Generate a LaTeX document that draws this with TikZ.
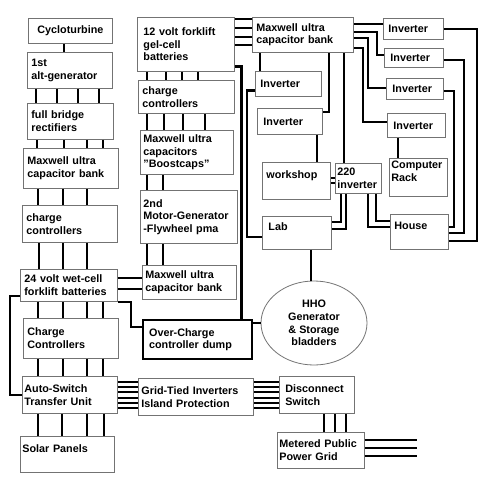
\documentclass[tikz,border=0pt]{standalone}
\usepackage{fontspec}
\setmainfont{Liberation Sans}
\usepackage{tikz}
\usetikzlibrary{shapes.geometric,calc}
\tikzstyle{blk} = [draw=black!55, line width=0.8pt, rectangle, anchor=north west, align=left, inner xsep=4pt, inner ysep=2pt, text=black, font=\bfseries\fontsize{10.8}{12.6}\selectfont]
\tikzstyle{tank} = [ellipse, draw=black!55, line width=0.8pt, align=center, inner sep=0pt, minimum width=106pt, minimum height=84pt, text=black, font=\bfseries\fontsize{10.8}{12.6}\selectfont]
\tikzstyle{wire} = [draw, line width=2.6pt, black]

\begin{document}
\begin{tikzpicture}[x=1pt, y=-1pt]
    \useasboundingbox (0,0) rectangle (500,478);

    \node [blk, align=center, text width=76pt, minimum height=25pt] (cyclo) at (28,18) {Cycloturbine};
    \node [blk, text width=77pt, minimum height=36pt] (altgen) at (27,52) {1st\\alt-generator};
    \node [blk, text width=78pt, minimum height=36pt] (rect) at (27,103) {full bridge\\rectifiers};
    \node [blk, text width=87pt, minimum height=40pt] (capl) at (23,148) {Maxwell ultra\\capacitor bank};
    \node [blk, text width=87pt, minimum height=37pt] (ccl) at (22,205) {charge\\controllers};
    \node [blk, text width=89pt, minimum height=32pt] (bat24) at (20,269) {24 volt wet-cell\\forklift batteries};
    \node [blk, text width=87pt, minimum height=40pt] (ccb) at (23,318) {Charge\\Controllers};
    \node [blk, inner xsep=2pt, text width=91pt, minimum height=37pt] (ats) at (22,376) {Auto-Switch\\Transfer Unit};
    \node [blk, inner xsep=2pt, text width=90pt, minimum height=36pt] (solar) at (20,436) {Solar Panels\\\mbox{}};

    \node [blk, inner xsep=6pt, text width=85pt, minimum height=54pt] (bat12) at (137,17) {12 volt forklift\\gel-cell\\batteries};
    \node [blk, text width=88pt, minimum height=33pt] (ccm) at (138,80) {charge\\controllers};
    \node [blk, inner xsep=3pt, text width=87pt, minimum height=44pt] (boost) at (140,130) {Maxwell ultra\\capacitors\\\symbol{34}Boostcaps\symbol{34}};
    \node [blk, inner xsep=3pt, text width=91pt, minimum height=53pt] (motor) at (140,190) {2nd\\Motor-Generator\\-Flywheel pma};
    \node [blk, inner xsep=3pt, text width=88pt, minimum height=34pt] (capm) at (142,265) {Maxwell ultra\\capacitor bank};
    \node [blk, draw=black, line width=2.2pt, inner xsep=6pt, text width=97pt, minimum height=39pt] (dump) at (142,319) {Over-Charge\\controller dump};
    \node [blk, inner xsep=3pt, text width=109pt, minimum height=37pt] (grid) at (138,378) {Grid-Tied Inverters\\Island Protection};

    \node [blk, text width=93pt, minimum height=35pt] (capr) at (252,17) {Maxwell ultra\\capacitor bank};
    \node [blk, inner xsep=5pt, text width=56pt, minimum height=25pt] (inv1) at (255,71) {Inverter};
    \node [blk, inner xsep=6pt, text width=53pt, minimum height=26pt] (inv2) at (257,108) {Inverter};
    \node [blk, text width=60pt, minimum height=37pt] (work) at (262,162) {workshop\\\mbox{}};
    \node [blk, inner xsep=2pt, text width=42pt, minimum height=30pt] (inv220) at (335,163) {220\\inverter};
    \node [blk, inner xsep=6pt, text width=57pt, minimum height=33pt] (lab) at (262,216) {Lab\\\mbox{}};
    \node [tank] (hho) at (314,323) {HHO\\Generator\\\& Storage\\bladders};

    \node [blk, inner xsep=5pt, text width=50pt, minimum height=21pt] (invr1) at (383,18) {Inverter};
    \node [blk, inner xsep=6pt, text width=47pt, minimum height=19pt] (invr2) at (384,48) {Inverter};
    \node [blk, inner xsep=6pt, text width=45pt, minimum height=21pt] (invr3) at (386,78) {Inverter};
    \node [blk, inner xsep=6pt, text width=46pt, minimum height=24pt] (invr4) at (387,113) {Inverter};
    \node [blk, inner xsep=2pt, text width=54pt, minimum height=38pt] (rack) at (389,158) {Computer\\Rack\\\mbox{}};
    \node [blk, text width=50pt, minimum height=35pt] (house) at (390,214) {House\\\mbox{}};

    \node [blk, inner xsep=6pt, text width=63pt, minimum height=37pt] (disc) at (279,376) {Disconnect\\Switch};
    \node [blk, inner xsep=2pt, text width=83pt, minimum height=36pt] (meter) at (277,432) {Metered Public\\Power Grid};
    \coordinate (gridout) at (417,448);

    \draw [wire] ([xshift=36]cyclo.south west) -- ([xshift=36]cyclo.south west |- altgen.north);
    \foreach \d in {9,30,51,72}
        \draw [wire] ([xshift=\d]altgen.south west) -- ([xshift=\d]altgen.south west |- rect.north);
    \foreach \d in {10,37,60,76}
        \draw [wire] ([xshift=\d]rect.south west) -- ([xshift=\d]rect.south west |- capl.north);
    \foreach \d in {15,40,64}
        \draw [wire] ([xshift=\d]capl.south west) -- ([xshift=\d]capl.south west |- ccl.north);
    \foreach \d in {17,41,65}
        \draw [wire] ([xshift=\d]ccl.south west) -- ([xshift=\d]ccl.south west |- bat24.north);
    \foreach \d in {18,43,67,83}
        \draw [wire] ([xshift=\d]bat24.south west) -- ([xshift=\d]bat24.south west |- ccb.north);
    \foreach \d in {15,40,64,80}
        \draw [wire] ([xshift=\d]ccb.south west) -- ([xshift=\d]ccb.south west |- ats.north);
    \foreach \d in {16,40,65,82}
        \draw [wire] ([xshift=\d]ats.south west) -- ([xshift=\d]ats.south west |- solar.north);
    \draw [wire] ([yshift=6]bat24.south west) -- ++(-10,0) |- (ats.west);
    \foreach \d in {9,20}
        \draw [wire] ([yshift=-\d]bat24.north east) -- ([yshift=-\d]bat24.north east -| capm.west);
    \draw [wire] (bat24.south east) -- ++(13,0) |- ([yshift=-8]dump.north west);
    \foreach \d in {6,11,16,22,27,32}
        \draw [wire] ([yshift=-\d]ats.north east) -- ([yshift=-\d]ats.north east -| grid.west);
    \foreach \d in {4,9,14,20,25,30}
        \draw [wire] ([yshift=-\d]grid.north east) -- ([yshift=-\d]grid.north east -| disc.west);
    \foreach \d in {45,56,67}
        \draw [wire] ([xshift=\d]disc.south west) -- ([xshift=\d]disc.south west |- meter.north);
    \foreach \d in {8,16,24}
        \draw [wire] ([yshift=-\d]meter.north east) -- ([yshift=-\d]meter.north east -| gridout);

    \foreach \d in {10,29,45,61}
        \draw [wire] ([xshift=\d]bat12.south west) -- ([xshift=\d]bat12.south west |- ccm.north);
    \foreach \d in {9,26,45,67}
        \draw [wire] ([xshift=\d]ccm.south west) -- ([xshift=\d]ccm.south west |- boost.north);
    \foreach \d in {7,23}
        \draw [wire] ([xshift=\d]boost.south west) -- ([xshift=\d]boost.south west |- motor.north);
    \foreach \d in {7,23}
        \draw [wire] ([xshift=\d]motor.south west) -- ([xshift=\d]motor.south west |- capm.north);
    \foreach \d in {2,11,20,28}
        \draw [wire] ([yshift=-\d]bat12.north east) -- ([yshift=-\d]bat12.north east -| capr.west);
    \draw [wire] ([yshift=5]bat12.south east) -| ([xshift=-12]dump.north east);

    \draw [wire] ([xshift=8]capr.south west) -- ([xshift=8]capr.south west |- inv1.north);
    \draw [wire] ([xshift=77]capr.south west) |- ([yshift=-4]inv2.north east);
    \draw [wire] ([xshift=60]inv2.south west) -- ([xshift=60]inv2.south west |- work.north);
    \draw [wire] ([xshift=92]capr.south west) -- ([xshift=92]capr.south west |- inv220.north);
    \draw [wire] ([yshift=6]inv1.south west) -- ++(-8,0) |- ([yshift=-21]lab.north west);
    \foreach \d in {15,20}
        \draw [wire] ([yshift=-\d]inv220.north west) -- ([yshift=-\d]inv220.north west -| work.east);
    \draw [wire] ([xshift=6]inv220.south west) |- ([yshift=-6]lab.north east);
    \draw [wire] ([xshift=11]inv220.south west) |- ([yshift=-13]lab.north east);
    \draw [wire] ([xshift=41]inv220.south west) |- ([yshift=-7]house.north west);
    \draw [wire] ([xshift=33]inv220.south west) |- ([yshift=-13]house.north west);
    \draw [wire] ([xshift=49]lab.south west) -- ([xshift=49]lab.south west |- hho.north);
    \draw [wire] (hho.west) -- (hho.west -| dump.east);

    \draw [wire] ([yshift=-7]capr.north east) -- ([yshift=-7]capr.north east -| invr1.west);
    \draw [wire] ([yshift=-15]capr.north east) -- ++(23,0) |- ([yshift=-7]invr2.north west);
    \draw [wire] ([yshift=-21]capr.north east) -- ++(14,0) |- ([yshift=-10]invr3.north west);
    \draw [wire] ([yshift=-31]capr.north east) -- ++(9,0) |- ([yshift=-9]invr4.north west);
    \draw [wire] ([xshift=11]invr4.south west) -- ([xshift=11]invr4.south west |- rack.north);
    \draw [wire] ([yshift=-11]invr1.north east) -- ++(33,0) |- ([yshift=-27]house.north east);
    \draw [wire] ([yshift=-12]invr2.north east) -- ++(20,0) |- ([yshift=-19]house.north east);
    \draw [wire] ([yshift=-13]invr3.north east) -- ++(10,0) |- ([yshift=-13]house.north east);
\end{tikzpicture}
\end{document}
